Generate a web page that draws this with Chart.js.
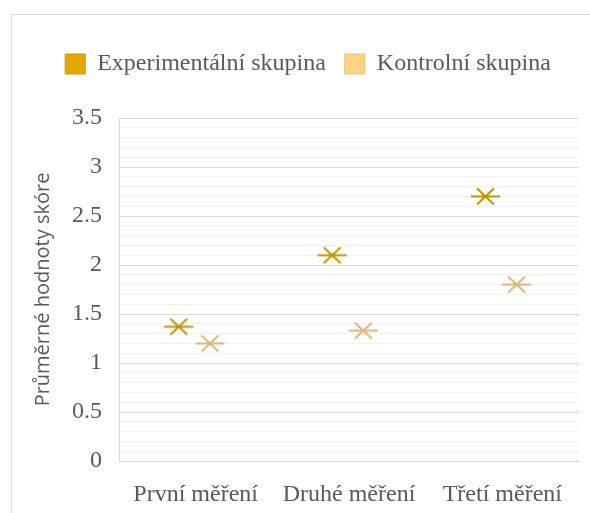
<!DOCTYPE html>
<html>
<head>
<meta charset="utf-8">
<script src="https://cdn.jsdelivr.net/npm/chart.js@4/dist/chart.umd.min.js"></script>
<style>
  html, body { margin: 0; padding: 0; background: #fff; }
  #wrap { position: relative; width: 590px; height: 513px; overflow: hidden; }
  #frame { position: absolute; left: 11px; top: 14px; width: 600px; height: 520px; border: 1px solid #d9d9d9; box-sizing: border-box; }
  #c { position: absolute; left: 0; top: 0; }
</style>
</head>
<body>
<div id="wrap">
  <div id="frame"></div>
  <canvas id="c" width="590" height="513"></canvas>
</div>
<script>
const categories = ['První měření', 'Druhé měření', 'Třetí měření'];
const experimentalValues = [1.37, 2.1, 2.7];
const controlValues = [1.2, 1.33, 1.8];
const yTicks = [0, 0.5, 1, 1.5, 2, 2.5, 3, 3.5];

const serif = "'Liberation Serif', 'Times New Roman', serif";
const textColor = '#595959';

// Excel-like star marker: an X plus a horizontal bar
function starMarker(color) {
  const cv = document.createElement('canvas');
  cv.width = 31; cv.height = 19;
  const g = cv.getContext('2d');
  g.strokeStyle = color;
  g.lineWidth = 2;
  g.beginPath();
  g.moveTo(1, 9.5); g.lineTo(30, 9.5);
  g.moveTo(7, 1.5); g.lineTo(24, 17.5);
  g.moveTo(24, 1.5); g.lineTo(7, 17.5);
  g.stroke();
  return cv;
}

function toPoints(values, shift) {
  return values.map((v, i) => ({ x: i + shift, y: v }));
}

// extra room under the legend
const legendGap = {
  id: 'legendGap',
  afterInit(chart) {
    const legend = chart.legend;
    const fit = legend.fit;
    legend.fit = function () {
      fit.call(this);
      this.height += 32;
    };
  }
};

new Chart(document.getElementById('c').getContext('2d'), {
  type: 'scatter',
  data: {
    datasets: [{
      label: 'Experimentální skupina',
      data: toPoints(experimentalValues, -0.11),
      backgroundColor: '#e2aa00',
      borderColor: '#c99a00',
      pointStyle: starMarker('#c29300'),
      radius: 10
    }, {
      label: 'Kontrolní skupina',
      data: toPoints(controlValues, 0.093),
      backgroundColor: '#ffd385',
      borderColor: '#ebbd72',
      pointStyle: starMarker('#dcb47c'),
      radius: 10
    }]
  },
  plugins: [legendGap],
  options: {
    responsive: false,
    animation: false,
    layout: { padding: { left: 31, right: 5, top: 33, bottom: 5 } },
    plugins: {
      tooltip: { enabled: false },
      legend: {
        labels: {
          boxWidth: 20,
          boxHeight: 20,
          color: textColor,
          font: { family: serif, size: 24 },
          padding: 19,
          generateLabels: function (chart) {
            return chart.data.datasets.map((d, i) => ({
              text: d.label,
              fillStyle: d.backgroundColor,
              strokeStyle: d.borderColor,
              lineWidth: 1,
              fontColor: textColor,
              datasetIndex: i
            }));
          }
        }
      }
    },
    scales: {
      x: {
        type: 'linear',
        min: -0.5,
        max: 2.5,
        afterBuildTicks: function (scale) {
          scale.ticks = categories.map((c, i) => ({ value: i }));
        },
        afterFit: function (scale) { scale.height = 47; },
        ticks: {
          color: textColor,
          font: { family: serif, size: 24 },
          padding: 11,
          maxRotation: 0,
          autoSkip: false,
          callback: function (v) { return categories[v]; }
        },
        grid: { display: false },
        border: { display: true, color: '#d9d9d9' }
      },
      y: {
        min: 0,
        max: 3.5,
        afterBuildTicks: function (scale) {
          const t = [];
          for (let k = 0; k <= 35; k++) t.push({ value: k / 10 });
          scale.ticks = t;
        },
        afterFit: function (scale) { scale.width = 88; },
        ticks: {
          color: textColor,
          font: { family: serif, size: 24 },
          padding: 17,
          autoSkip: false,
          callback: function (v) {
            const r = Math.round(v * 10) / 10;
            return yTicks.includes(r) ? String(r) : '';
          }
        },
        grid: {
          drawTicks: false,
          color: function (ctx) {
            const v = Math.round(ctx.tick.value * 10) / 10;
            return yTicks.includes(v) ? '#d9d9d9' : '#f0f0f0';
          },
          lineWidth: 1
        },
        border: { display: true, color: '#d9d9d9' },
        title: {
          display: true,
          text: 'Průměrné hodnoty skóre',
          color: textColor,
          font: { family: "'Open Sans', 'Noto Sans', sans-serif", size: 20 },
          padding: { top: 0, bottom: 0 }
        }
      }
    }
  }
});
</script>
</body>
</html>
